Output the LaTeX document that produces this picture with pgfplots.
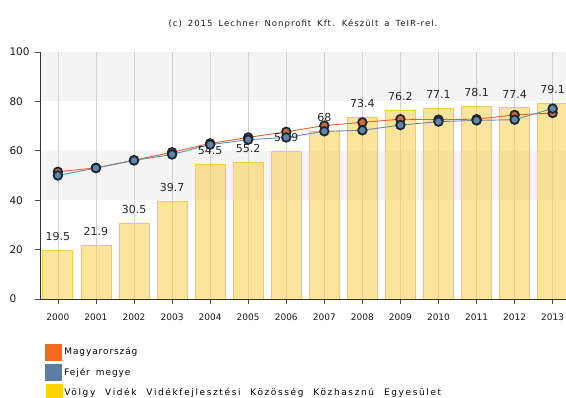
\documentclass[border=0pt]{standalone}
\usepackage{fontspec}
\setmainfont{DejaVu Sans}
\newfontfamily\spaced[LetterSpace=10, WordSpace=1.6]{DejaVu Sans}
\newfontfamily\longfont[LetterSpace=18, WordSpace=2.2]{DejaVu Sans}
\newfontfamily\titlefont[LetterSpace=12, WordSpace=1.6]{DejaVu Sans}
\usepackage{pgfplots}
\usepackage{pgfplotstable}
\pgfplotsset{compat=1.18}

\definecolor{huline}{HTML}{E2622C}
\definecolor{hufill}{HTML}{CC6A40}
\definecolor{feline}{HTML}{6A8BAE}
\definecolor{fefill}{HTML}{6286AA}
\definecolor{markedge}{HTML}{1E2833}
\definecolor{barfill}{HTML}{F8D04C}
\definecolor{baredge}{HTML}{F3CC45}
\definecolor{legorange}{HTML}{F26A22}
\definecolor{legblue}{HTML}{5B7EA5}
\definecolor{legyellow}{HTML}{FFD400}
\definecolor{band}{HTML}{F4F4F4}

% x: 0 = 2000 ... 13 = 2013
\pgfplotstableread{
x bar hu fejer
0 19.5 51.5 50.0
1 21.9 53.1 53.0
2 30.5 56.2 56.1
3 39.7 59.4 58.5
4 54.5 63.0 62.5
5 55.2 65.4 64.5
6 59.9 67.7 65.4
7 68.0 70.2 67.9
8 73.4 71.5 68.3
9 76.2 72.8 70.4
10 77.1 72.6 71.8
11 78.1 72.8 72.3
12 77.4 74.5 72.6
13 79.1 75.3 77.1
}\data

\begin{document}
\begin{tikzpicture}
\begin{axis}[
    set layers,
    at={(40pt,99pt)}, anchor=south west,
    width=526pt, height=247pt, scale only axis,
    xmin=-0.47, xmax=13.35,
    ymin=0, ymax=100,
    xtick={0,...,13},
    xticklabels={2000,2001,2002,2003,2004,2005,2006,2007,2008,2009,2010,2011,2012,2013},
    ytick={0,20,40,60,80,100},
    axis lines*=left,
    axis line style={draw=black!80, line width=0.9pt},
    tick align=outside,
    major tick length=5pt,
    tick style={draw=black!70, line width=0.7pt},
    xmajorgrids,
    grid style={draw=black!18, line width=0.6pt},
    /pgf/number format/assume math mode=true,
    ticklabel style={text=black!90},
    xticklabel style={font=\fontsize{9}{10}\selectfont, yshift=-6pt},
    yticklabel style={font=\fontsize{10.5}{12}\selectfont, anchor=west, xshift=-29pt},
    legend style={at={(0.01,-0.18)}, anchor=north west, draw=none, fill=none,
        font=\spaced\fontsize{9}{10}\selectfont, row sep=3.5pt,
        inner sep=0pt, cells={anchor=west}},
    legend cell align=left,
]
\begin{pgfonlayer}{axis background}
\fill[band] (axis cs:-0.47,80) rectangle (axis cs:13.35,100);
\fill[band] (axis cs:-0.47,40) rectangle (axis cs:13.35,60);
\end{pgfonlayer}

\addplot[ybar, bar width=30pt, fill=barfill, fill opacity=0.55,
    draw=baredge, line width=0.8pt, forget plot,
    nodes near coords,
    every node near coord/.append style={font=\fontsize{11}{13}\selectfont,
        text=black!85, text opacity=1, yshift=6pt,
        /pgf/number format/fixed, /pgf/number format/precision=1}]
    table[x=x, y=bar] {\data};

\addplot[huline, line width=0.9pt, mark=*, mark size=4.3pt,
    mark options={fill=hufill, draw=markedge, line width=1.8pt},
    legend image code/.code={\fill[legorange] (0pt,-8pt) rectangle (16pt,8pt);}]
    table[x=x, y=hu] {\data};
\addlegendentry{Magyarország}

\addplot[feline, line width=0.9pt, mark=*, mark size=4.3pt,
    mark options={fill=fefill, draw=markedge, line width=1.8pt},
    legend image code/.code={\fill[legblue] (0pt,-8pt) rectangle (16pt,8pt);}]
    table[x=x, y=fejer] {\data};
\addlegendentry{Fejér megye}

\addlegendimage{legend image code/.code={\fill[legyellow] (0pt,-8pt) rectangle (16pt,8pt);}}
\addlegendentry{\longfont\fontsize{9}{10}\selectfont Völgy Vidék Vidékfejlesztési Közösség Közhasznú Egyesület}
\end{axis}
\node[font=\titlefont\fontsize{8.5}{10}\selectfont, text=black!90] at (303pt,374pt)
    {(c) 2015 Lechner Nonprofit Kft. Készült a TeIR-rel.};
\pgfresetboundingbox
\useasboundingbox (0pt,0pt) rectangle (566pt,398pt);
\end{tikzpicture}
\end{document}
